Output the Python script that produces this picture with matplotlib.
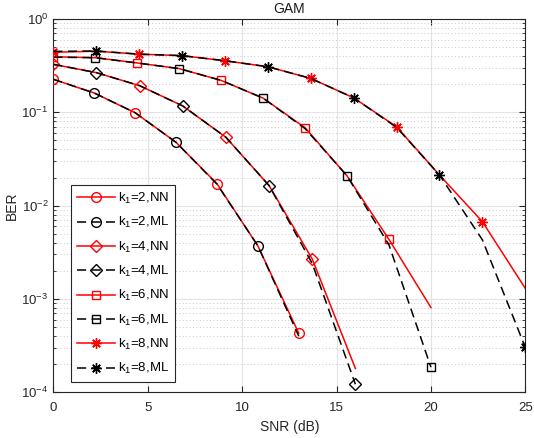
import numpy as np
import matplotlib
matplotlib.use("Agg")
import matplotlib.pyplot as plt
from matplotlib.ticker import LogLocator, NullFormatter, FixedLocator

plt.rcParams['font.family'] = ['Liberation Sans', 'DejaVu Sans']
plt.rcParams['mathtext.fontset'] = 'custom'
plt.rcParams['mathtext.rm'] = 'Liberation Sans'
plt.rcParams['mathtext.it'] = 'Liberation Sans'

# ---------------- data ----------------
snr_k2 = np.linspace(0, 13, 7)
nn_k2 = [0.226, 0.161, 0.099, 0.0477, 0.0172, 0.0037, 4.3e-4]
ml_k2 = [0.226, 0.161, 0.099, 0.0477, 0.0170, 0.00372, 4.0e-4]

snr_k4 = np.linspace(0, 16, 8)
nn_k4 = [0.327, 0.266, 0.193, 0.117, 0.054, 0.0164, 2.68e-3, 1.8e-4]
ml_k4 = [0.327, 0.266, 0.193, 0.117, 0.054, 0.0164, 2.4e-3, 1.22e-4]

snr_k6 = np.linspace(0, 20, 10)
nn_k6 = [0.394, 0.385, 0.338, 0.294, 0.220, 0.142, 0.0684, 0.0209, 4.35e-3, 8.1e-4]
ml_k6 = [0.390, 0.385, 0.338, 0.294, 0.220, 0.142, 0.0670, 0.0209, 3.8e-3, 1.86e-4]

snr_k8 = np.linspace(0, 25, 12)
nn_k8 = [0.44, 0.452, 0.42, 0.405, 0.357, 0.308, 0.231, 0.143, 0.070, 0.0213, 6.73e-3, 1.3e-3]
ml_k8 = [0.45, 0.454, 0.42, 0.405, 0.357, 0.308, 0.231, 0.143, 0.069, 0.0213, 4.3e-3, 3.03e-4]

k_values = [2, 4, 6, 8]
markers = ['o', 'D', 's', (8, 2, 0)]
marker_sizes = [7, 6.3, 6, 7.5]
xticks = [0, 5, 10, 15, 20, 25]

series = [(snr_k2, nn_k2, ml_k2), (snr_k4, nn_k4, ml_k4),
          (snr_k6, nn_k6, ml_k6), (snr_k8, nn_k8, ml_k8)]

# ---------------- figure ----------------
fig = plt.figure(figsize=(5.34, 4.38), dpi=100)
ax = fig.add_axes([0.0999, 0.1043, 0.8838, 0.8523])

fs = 9.5
for (x, nn, ml), k, m, ms in zip(series, k_values, markers, marker_sizes):
    n = len(x)
    ax.plot(x, nn, color='red', lw=1.1, marker=m, ms=ms, mfc='none',
            mec='red', mew=1.0, markevery=list(range(0, n, 2)),
            label=r'$\mathregular{k_1}$=%d,NN' % k, zorder=3)
    ax.plot(x, ml, color='black', lw=1.1, ls=(0, (6, 3.5)), marker=m, ms=ms,
            mfc='none', mec='black', mew=1.0,
            markevery=list(range(1, n, 2)),
            label=r'$\mathregular{k_1}$=%d,ML' % k, zorder=3)

ax.set_yscale('log')
ax.set_xlim(0, 25)
ax.set_ylim(1e-4, 1)
ax.xaxis.set_major_locator(FixedLocator(xticks))
ax.yaxis.set_major_locator(LogLocator(base=10, numticks=10))
ax.yaxis.set_minor_locator(LogLocator(base=10, subs=np.arange(2, 10), numticks=20))
ax.yaxis.set_minor_formatter(NullFormatter())

ax.grid(True, which='major', color='#e3e3e3', lw=0.8, ls='-', zorder=0)
ax.grid(True, which='minor', axis='y', color='#c8c8c8', lw=0.7, ls=(0, (1, 2.5)), zorder=0)
ax.set_axisbelow(True)

for sp in ax.spines.values():
    sp.set_color('#262626')
    sp.set_linewidth(0.8)
ax.tick_params(which='both', direction='in', top=True, right=True,
               colors='#262626', labelsize=fs, labelcolor='#262626')
ax.tick_params(which='major', length=4.5, width=0.8)
ax.tick_params(which='minor', length=2.5, width=0.6)
ax.tick_params(axis='x', pad=7)

ax.set_title('GAM', fontsize=fs + 0.5, color='#1a1a1a', pad=4)
ax.set_xlabel('SNR (dB)', fontsize=fs + 0.5, color='#262626', labelpad=4)
ax.set_ylabel('BER', fontsize=fs + 0.5, color='#262626', labelpad=2)

leg = ax.legend(loc='lower left', bbox_to_anchor=(0.037, 0.027), fontsize=fs,
                handlelength=2.9, labelspacing=0.7, borderpad=0.45,
                handletextpad=0.25, fancybox=False, framealpha=1,
                edgecolor='#262626', borderaxespad=0)
leg.get_frame().set_linewidth(0.8)

fig.savefig('out.png', dpi=100)
